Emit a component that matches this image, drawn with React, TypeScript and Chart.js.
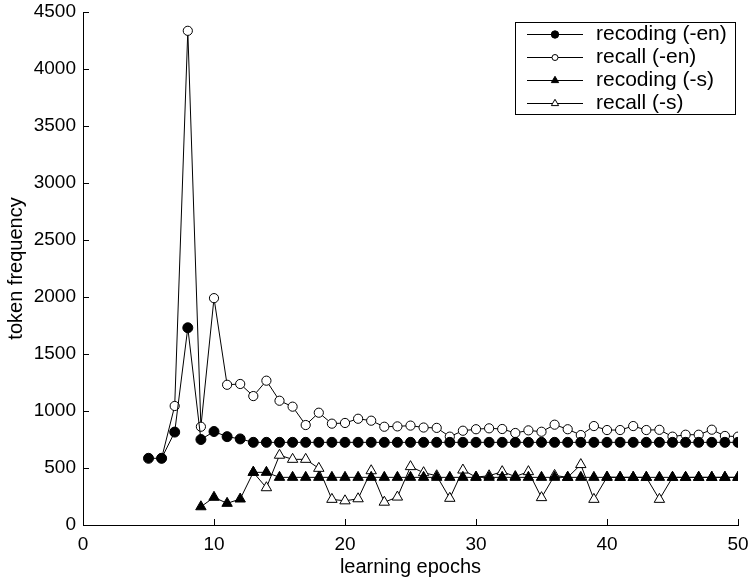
import React, { useEffect, useRef } from 'react';
import { Chart, registerables } from 'chart.js';

Chart.register(...registerables);

const epochs = [5, 6, 7, 8, 9, 10, 11, 12, 13, 14, 15, 16, 17, 18, 19, 20, 21, 22, 23, 24, 25, 26, 27, 28, 29, 30, 31, 32, 33, 34, 35, 36, 37, 38, 39, 40, 41, 42, 43, 44, 45, 46, 47, 48, 49, 50];

const recodingEn = [585, 585, 815, 1730, 750, 820, 775, 755, 725, 725, 725, 725, 725, 725, 725, 725, 725, 725, 725, 725, 725, 725, 725, 725, 725, 725, 725, 725, 725, 725, 725, 725, 725, 725, 725, 725, 725, 725, 725, 725, 725, 725, 725, 725, 725, 725];

const recallEn = [null, 585, 1044, 4335, 862, 1990, 1230, 1237, 1131, 1266, 1090, 1038, 877, 985, 889, 895, 932, 915, 862, 865, 872, 855, 852, 775, 827, 840, 848, 842, 807, 830, 818, 880, 840, 789, 868, 833, 833, 868, 833, 835, 775, 792, 792, 836, 781, 775];

const recodingS = [null, null, null, null, 160, 243, 190, 228, 462, 462, 418, 418, 418, 418, 418, 418, 418, 418, 418, 418, 418, 418, 418, 418, 418, 418, 418, 418, 418, 418, 418, 418, 418, 418, 418, 418, 418, 418, 418, 418, 418, 418, 418, 418, 418, 418];

const recallS = [null, null, null, null, null, null, null, null, 462, 327, 612, 576, 576, 497, 225, 212, 230, 476, 200, 245, 512, 459, 432, 234, 482, 420, 432, 468, 425, 468, 240, 435, 418, 530, 225, 420, 418, 418, 418, 225, 418, 418, 418, 418, 418, 418];

const seriesNames = ['recoding (-en)', 'recall (-en)', 'recoding (-s)', 'recall (-s)'];

const xTitle = 'learning epochs';
const yTitle = 'token frequency';

const FONT = "'Liberation Sans', Arial, Helvetica, sans-serif";

function drawMarker(c: CanvasRenderingContext2D, style: string, x: number, y: number, r: number, fill: string) {
  c.beginPath();
  if (style === 'circle') {
    c.arc(x, y, r, 0, Math.PI * 2);
  } else {
    c.moveTo(x, y - r);
    c.lineTo(x + r * Math.sin((2 * Math.PI) / 3), y + r / 2);
    c.lineTo(x - r * Math.sin((2 * Math.PI) / 3), y + r / 2);
    c.closePath();
  }
  c.fillStyle = fill;
  c.fill();
  c.strokeStyle = '#000';
  c.lineWidth = 1;
  c.stroke();
}

function zeroPad(s: any) {
  s.paddingTop = 0;
  s.paddingBottom = 0;
  s.paddingLeft = 0;
  s.paddingRight = 0;
}

export default function App() {
  const ref = useRef<HTMLCanvasElement>(null);

  useEffect(() => {
    document.body.style.margin = '0';
    const canvas = ref.current;
    if (!canvas) return;
    const toPts = (vals: (number | null)[]) => epochs.map((x, i) => ({ x, y: vals[i] }));

    const styles = [
      { style: 'circle', fill: '#000', r: 5, lr: 3.7 },
      { style: 'circle', fill: '#fff', r: 4.6, lr: 3 },
      { style: 'triangle', fill: '#000', r: 6, lr: 4.2 },
      { style: 'triangle', fill: '#fff', r: 6, lr: 4.2 },
    ];
    const values = [recodingEn, recallEn, recodingS, recallS];

    const ticksInward = {
      id: 'ticksInward',
      afterDatasetsDraw(chart: any) {
        const c = chart.ctx as CanvasRenderingContext2D;
        const xs = chart.scales.x;
        const ys = chart.scales.y;
        const area = chart.chartArea;
        c.save();
        c.strokeStyle = '#000';
        c.lineWidth = 1;
        c.beginPath();
        ys.ticks.forEach((t: any) => {
          const py = Math.round(ys.getPixelForValue(t.value)) + 0.5;
          c.moveTo(area.left, py);
          c.lineTo(area.left + 6, py);
        });
        xs.ticks.forEach((t: any) => {
          const px = Math.round(xs.getPixelForValue(t.value)) + 0.5;
          c.moveTo(px, area.bottom);
          c.lineTo(px, area.bottom - 6);
        });
        c.stroke();
        c.restore();
      },
    };

    const legendBox = {
      id: 'legendBox',
      afterDraw(chart: any) {
        const c = chart.ctx as CanvasRenderingContext2D;
        const area = chart.chartArea;
        const right = Math.round(area.right) - 3;
        const left = right - 220;
        const top = Math.round(area.top) + 10;
        const h = 92;
        c.save();
        c.fillStyle = '#fff';
        c.fillRect(left + 0.5, top + 0.5, 220, h);
        c.strokeStyle = '#000';
        c.lineWidth = 1;
        c.strokeRect(left + 0.5, top + 0.5, 220, h);
        c.font = `21px ${FONT}`;
        c.textBaseline = 'middle';
        c.textAlign = 'left';
        seriesNames.forEach((name, i) => {
          const y = top + 12 + i * 23 + 0.5;
          c.beginPath();
          c.moveTo(left + 12, y);
          c.lineTo(left + 68, y);
          c.strokeStyle = '#000';
          c.lineWidth = 1;
          c.stroke();
          drawMarker(c, styles[i].style, left + 40, y, styles[i].lr, styles[i].fill);
          c.fillStyle = '#000';
          c.fillText(name, left + 81, y);
        });
        c.restore();
      },
    };

    const chart = new Chart(canvas, {
      type: 'line',
      data: {
        datasets: seriesNames.map((name, i) => ({
          label: name,
          data: toPts(values[i]),
          borderColor: '#000',
          borderWidth: 1,
          backgroundColor: styles[i].fill,
          pointStyle: styles[i].style,
          pointRadius: styles[i].r,
          pointBackgroundColor: styles[i].fill,
          pointBorderColor: '#000',
          pointBorderWidth: 1,
          tension: 0,
          fill: false,
          spanGaps: false,
        })),
      },
      options: {
        animation: false,
        responsive: false,
        maintainAspectRatio: false,
        layout: { padding: { top: 12, right: 10, left: 0, bottom: 0 } },
        plugins: {
          legend: { display: false },
          tooltip: { enabled: false },
        },
        scales: {
          x: {
            type: 'linear',
            min: 0,
            max: 50,
            ticks: { stepSize: 10, color: '#000', font: { family: FONT, size: 19 }, padding: 8, maxRotation: 0, callback: (v: any) => String(v) },
            grid: { display: false, drawTicks: false },
            border: { display: true, color: '#000', width: 1 },
            title: { display: true, text: xTitle, color: '#000', font: { family: FONT, size: 20 }, padding: { top: 0, bottom: 2 } },
            afterFit: (s: any) => { s.height = 56; zeroPad(s); },
          },
          y: {
            type: 'linear',
            min: 0,
            max: 4500,
            ticks: { stepSize: 500, color: '#000', font: { family: FONT, size: 19 }, padding: 7, callback: (v: any) => String(v) },
            grid: { display: false, drawTicks: false },
            border: { display: true, color: '#000', width: 1 },
            title: { display: true, text: yTitle, color: '#000', font: { family: FONT, size: 20 }, padding: { top: 4, bottom: 0 } },
            afterFit: (s: any) => { s.width = 83; zeroPad(s); },
          },
        },
      },
      plugins: [ticksInward, legendBox],
    } as any);

    return () => chart.destroy();
  }, []);

  return (
    <div style={{ width: 748, height: 581, position: 'relative' }}>
      <canvas ref={ref} width={748} height={581} style={{ display: 'block' }} />
    </div>
  );
}
